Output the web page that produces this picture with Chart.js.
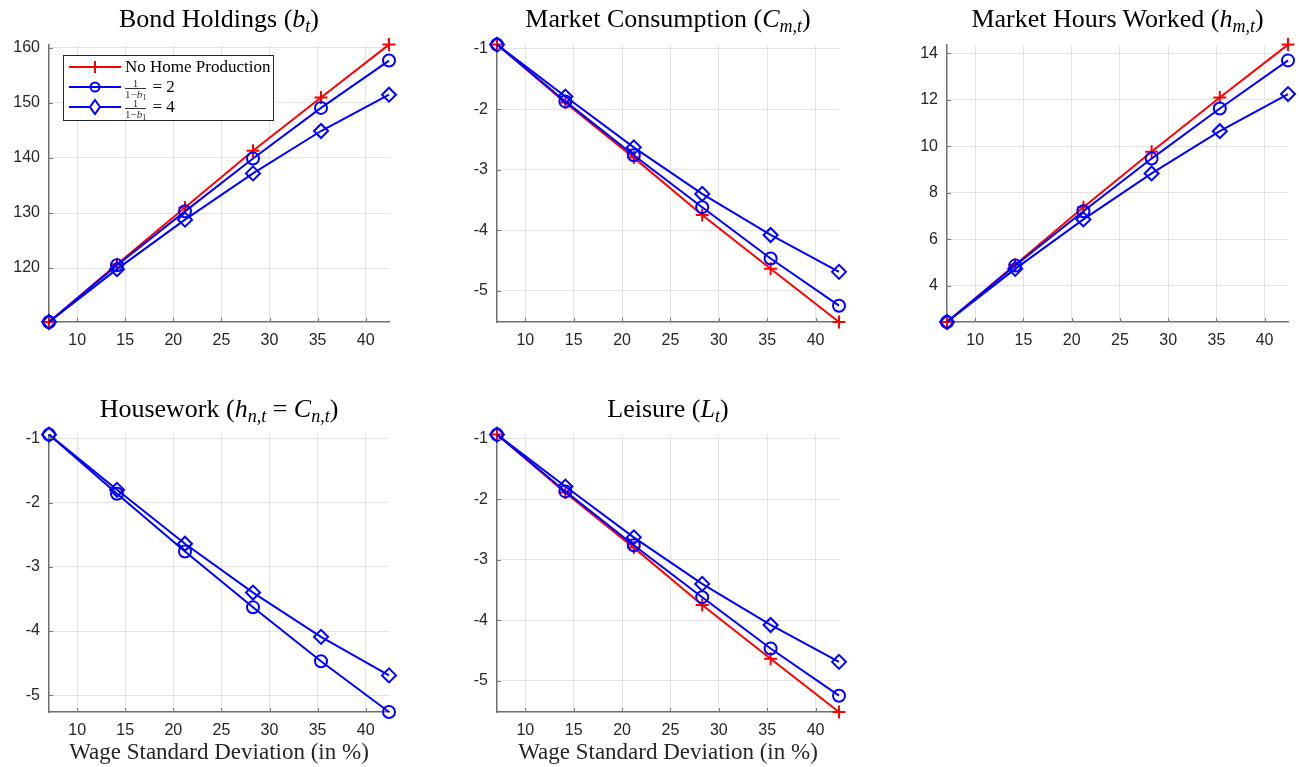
<!DOCTYPE html>
<html>
<head>
<meta charset="utf-8">
<script src="https://cdn.jsdelivr.net/npm/chart.js@4"></script>
<style>
  html, body { margin:0; padding:0; background:#fff; }
  body { width:1299px; height:767px; position:relative; overflow:hidden; }
  .cv { position:absolute; }
  .title { position:absolute; font-family:"Liberation Serif", "DejaVu Serif", serif; font-size:26px; line-height:28px; color:#000; white-space:nowrap; transform:translateX(-50%); }
  .title sub { font-size:18px; vertical-align:-5px; line-height:0; }
  .xlab { position:absolute; font-family:"Liberation Serif", "DejaVu Serif", serif; font-size:23px; line-height:26px; color:#262626; white-space:nowrap; transform:translateX(-50%); }
  .legend { position:absolute; left:63px; top:55px; width:209px; height:64px; border:1px solid #262626; background:#fff; font-family:"Liberation Serif", serif; color:#000; }
  .lrow { position:absolute; left:0; height:20px; }
  .lrow svg { position:absolute; left:4px; top:0; }
  .ltxt { position:absolute; left:61px; white-space:nowrap; font-size:17px; line-height:20px; top:0; }
  .frac { display:inline-block; vertical-align:middle; text-align:center; font-size:11px; line-height:10px; color:#333; margin-right:2px; }
  .frac .num { display:block; border-bottom:1px solid #333; padding:0 1px; }
  .frac .den { display:block; }
</style>
</head>
<body>
<div id="root"></div>
<script>
// ---- data ----
const wageSD = [7.071, 14.142, 21.213, 28.284, 35.355, 42.426];
const xTicks = [10, 15, 20, 25, 30, 35, 40];

const bondNoHome = [110.2, 120.7, 131.0, 141.3, 151.0, 160.6];
const bondB2     = [110.2, 120.5, 130.3, 139.9, 149.1, 157.7];
const bondB4     = [110.2, 119.8, 128.8, 137.2, 144.9, 151.5];
const bondTicks  = [120, 130, 140, 150, 160];

const consNoHome = [-0.93, -1.89, -2.80, -3.75, -4.64, -5.52];
const consB2     = [-0.93, -1.87, -2.76, -3.62, -4.47, -5.25];
const consB4     = [-0.93, -1.79, -2.63, -3.40, -4.08, -4.69];
const consTicks  = [-5, -4, -3, -2, -1];

const hoursNoHome = [2.43, 4.90, 7.37, 9.76, 12.10, 14.38];
const hoursB2     = [2.43, 4.86, 7.20, 9.47, 11.63, 13.70];
const hoursB4     = [2.43, 4.72, 6.85, 8.83, 10.65, 12.25];
const hoursTicks  = [4, 6, 8, 10, 12, 14];

const houseB2 = [-0.94, -1.86, -2.76, -3.63, -4.47, -5.26];
const houseB4 = [-0.94, -1.80, -2.64, -3.40, -4.09, -4.69];
const houseTicks = [-5, -4, -3, -2, -1];

const leisNoHome = [-0.93, -1.89, -2.80, -3.75, -4.64, -5.52];
const leisB2     = [-0.93, -1.87, -2.76, -3.62, -4.47, -5.25];
const leisB4     = [-0.93, -1.79, -2.63, -3.40, -4.08, -4.69];
const leisTicks  = [-5, -4, -3, -2, -1];

const seriesNames = ["No Home Production", "1/(1-b1) = 2", "1/(1-b1) = 4"];
const titles = [
  'Bond Holdings (<i>b</i><sub><i>t</i></sub>)',
  'Market Consumption (<i>C</i><sub><i>m,t</i></sub>)',
  'Market Hours Worked (<i>h</i><sub><i>m,t</i></sub>)',
  'Housework (<i>h</i><sub><i>n,t</i></sub> = <i>C</i><sub><i>n,t</i></sub>)',
  'Leisure (<i>L</i><sub><i>t</i></sub>)'
];
const xLabel = 'Wage Standard Deviation (in %)';

// ---- layout (chart areas in page px) ----
const panels = [
  { area:[49, 389, 42, 322], ymin:110.2, ymax:160.6, yt:bondTicks, data:[bondNoHome, bondB2, bondB4], title:titles[0], tTop:5, xl:false },
  { area:[497, 839, 42, 322], ymin:-5.52, ymax:-0.93, yt:consTicks, data:[consNoHome, consB2, consB4], title:titles[1], tTop:5, xl:false },
  { area:[947, 1288, 42, 322], ymin:2.43, ymax:14.38, yt:hoursTicks, data:[hoursNoHome, hoursB2, hoursB4], title:titles[2], tTop:5, xl:false },
  { area:[49, 389, 432, 712], ymin:-5.26, ymax:-0.94, yt:houseTicks, data:[null, houseB2, houseB4], title:titles[3], tTop:395, xl:true },
  { area:[497, 839, 432, 712], ymin:-5.52, ymax:-0.93, yt:leisTicks, data:[leisNoHome, leisB2, leisB4], title:titles[4], tTop:395, xl:true }
];

const styles = [
  { color:'#ff0000', pointStyle:'cross', radius:6.5, order:3 },
  { color:'#0000ff', pointStyle:'circle', radius:6, order:2 },
  { color:'#0000ff', pointStyle:'rectRot', radius:7, order:1 }
];

const PADL = 60, PADR = 16, PADT = 16, XH = 40;
const root = document.getElementById('root');

const inwardTicks = {
  id:'inwardTicks',
  afterDraw(chart) {
    const ctx = chart.ctx, a = chart.chartArea;
    const xs = chart.scales.x, ys = chart.scales.y;
    ctx.save();
    ctx.strokeStyle = '#777'; ctx.lineWidth = 1;
    ctx.beginPath();
    xs.ticks.forEach(t => { const px = Math.round(xs.getPixelForValue(t.value)) + 0.5; ctx.moveTo(px, a.bottom); ctx.lineTo(px, a.bottom - 4); });
    ys.ticks.forEach(t => { const py = Math.round(ys.getPixelForValue(t.value)) + 0.5; ctx.moveTo(a.left, py); ctx.lineTo(a.left + 4, py); });
    ctx.stroke();
    ctx.restore();
  }
};

panels.forEach((p, i) => {
  const [l, r, t, b] = p.area;
  const w = (r - l) + PADL + PADR, h = (b - t) + PADT + XH;
  const c = document.createElement('canvas');
  c.className = 'cv';
  c.style.left = (l - PADL) + 'px'; c.style.top = (t - PADT) + 'px';
  c.style.width = w + 'px'; c.style.height = h + 'px';
  c.width = w; c.height = h;
  root.appendChild(c);

  const ds = [];
  p.data.forEach((arr, k) => {
    if (!arr) return;
    const s = styles[k];
    ds.push({
      label: seriesNames[k],
      data: wageSD.map((x, j) => ({ x, y: arr[j] })),
      borderColor: s.color, backgroundColor: 'rgba(0,0,0,0)',
      pointBorderColor: s.color, pointBackgroundColor: 'rgba(0,0,0,0)',
      pointStyle: s.pointStyle, pointRadius: s.radius, pointBorderWidth: 2,
      borderWidth: 2, tension: 0, order: s.order, clip: false
    });
  });

  new Chart(c, {
    type: 'line',
    data: { datasets: ds },
    options: {
      responsive: false, animation: false, events: [],
      layout: { padding: { left: 0, right: PADR, top: PADT, bottom: 0 } },
      plugins: { legend: { display: false }, title: { display: false }, tooltip: { enabled: false } },
      scales: {
        x: {
          type: 'linear', min: wageSD[0], max: wageSD[wageSD.length - 1],
          afterBuildTicks: sc => { sc.ticks = xTicks.map(v => ({ value: v })); },
          afterFit: sc => { sc.height = XH; },
          grid: { color: '#e3e3e3', lineWidth: 1, drawTicks: false },
          border: { display: true, color: '#6f6f6f', width: 1.5 },
          ticks: { color: '#262626', padding: 9, font: { family: 'Liberation Sans', size: 16 }, maxRotation: 0 }
        },
        y: {
          type: 'linear', min: p.ymin, max: p.ymax,
          afterBuildTicks: sc => { sc.ticks = p.yt.map(v => ({ value: v })); },
          afterFit: sc => { sc.width = PADL; },
          grid: { color: '#e3e3e3', lineWidth: 1, drawTicks: false },
          border: { display: true, color: '#6f6f6f', width: 1.5 },
          ticks: { color: '#262626', padding: 9, font: { family: 'Liberation Sans', size: 16 }, callback: v => String(v) }
        }
      }
    },
    plugins: [inwardTicks]
  });

  const td = document.createElement('div');
  td.className = 'title';
  td.style.left = ((l + r) / 2) + 'px'; td.style.top = p.tTop + 'px';
  td.innerHTML = p.title;
  root.appendChild(td);

  if (p.xl) {
    const xd = document.createElement('div');
    xd.className = 'xlab';
    xd.style.left = ((l + r) / 2) + 'px'; xd.style.top = '739px';
    xd.textContent = xLabel;
    root.appendChild(xd);
  }
});

// ---- legend (HTML, inside first panel) ----
const lg = document.createElement('div');
lg.className = 'legend';
const rowsY = [1, 21, 41];
const sym = [
  '<svg width="54" height="20"><line x1="1" y1="10" x2="53" y2="10" stroke="#ff0000" stroke-width="2"/><path d="M27 4V16M21 10H33" stroke="#ff0000" stroke-width="2"/></svg>',
  '<svg width="54" height="20"><line x1="1" y1="10" x2="53" y2="10" stroke="#0000ff" stroke-width="2"/><circle cx="27" cy="10" r="4.5" fill="none" stroke="#0000ff" stroke-width="2"/></svg>',
  '<svg width="54" height="20"><line x1="1" y1="10" x2="53" y2="10" stroke="#0000ff" stroke-width="2"/><path d="M27 3L32 10L27 17L22 10Z" fill="#fff" stroke="#0000ff" stroke-width="2"/></svg>'
];
const fracHTML = v => '<span class="frac"><span class="num">1</span><span class="den">1&minus;<i>b</i><sub style="font-size:8px;vertical-align:-2px;line-height:0">1</sub></span></span> = ' + v;
const ltexts = ['No Home Production', fracHTML(2), fracHTML(4)];
rowsY.forEach((y, k) => {
  const row = document.createElement('div');
  row.className = 'lrow'; row.style.top = y + 'px'; row.style.width = '209px';
  row.innerHTML = sym[k] + '<span class="ltxt">' + ltexts[k] + '</span>';
  lg.appendChild(row);
});
root.appendChild(lg);
</script>
</body>
</html>
